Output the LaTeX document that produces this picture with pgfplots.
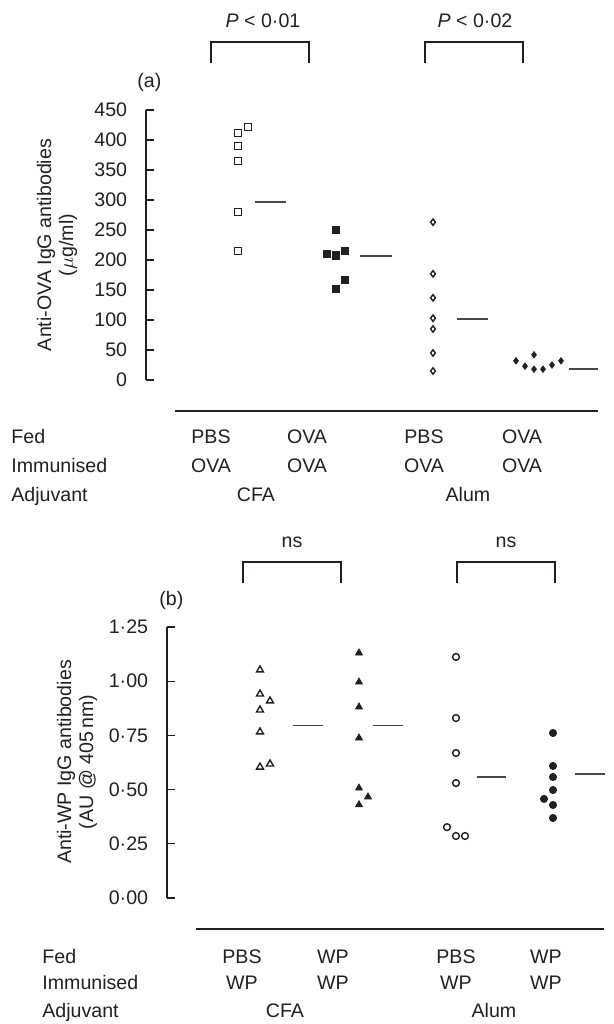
\documentclass[border=0pt]{standalone}
\usepackage{fontspec}
\setmainfont{Liberation Sans}
\usepackage{pgfplots}
\pgfplotsset{compat=1.18}
\definecolor{ink}{RGB}{35,31,32}

% x positions are in page pixels (jitter of the dots), y are the values
\pgfplotsset{
  dotplot/.style={
    scale only axis, anchor=south west,
    axis x line=none, axis y line=left,
    y axis line style={-, line width=0.6pt, ink},
    tick align=inside, major tick length=4pt,
    ytick style={line width=0.6pt, ink},
    yticklabel style={xshift=-6pt, text=ink},
  },
  openm/.style={only marks, mark options={draw=ink, fill=white, line width=0.7pt}},
  fillm/.style={only marks, mark options={draw=ink, fill=ink, line width=0.4pt}},
  meanline/.style={no marks, black!72, line width=0.8pt},
}

\begin{document}
\fontsize{9.8}{11}\selectfont
\begin{tikzpicture}
\path[use as bounding box] (0,0) rectangle (307pt,512pt);

% ---------- (a) anti-OVA ----------
\begin{axis}[dotplot, at={(73pt,322pt)}, width=227pt, height=135pt,
  xmin=146, xmax=600, ymin=0, ymax=450,
  ytick={0,50,100,150,200,250,300,350,400,450},
  yticklabels={0,50,100,150,200,250,300,350,400,450}]
  % PBS fed, OVA immunised, CFA
  \addplot[openm, mark=square, mark size=1.75pt] coordinates {
    (238,412) (248,422) (238,390) (238,365) (238,280) (238,215)};
  \addplot[meanline] coordinates {(255,297) (286,297)};
  % OVA fed, OVA immunised, CFA
  \addplot[fillm, mark=square*, mark size=1.9pt] coordinates {
    (336,250) (327,210) (336,208) (345,215) (345,167) (336,152)};
  \addplot[meanline] coordinates {(360,207) (392,207)};
  % PBS fed, OVA immunised, Alum
  \addplot[openm, mark=diamond, mark size=1.6pt] coordinates {
    (433,263) (433,177) (433,137) (433,103) (433,85) (433,45) (433,15)};
  \addplot[meanline] coordinates {(457,102) (488,102)};
  % OVA fed, OVA immunised, Alum
  \addplot[fillm, mark=diamond*, mark size=1.6pt] coordinates {
    (516,32) (525,23) (534,42) (534,18) (543,18) (552,25) (561,32)};
  \addplot[meanline] coordinates {(569,18) (598,18)};
\end{axis}

% ---------- (b) anti-WP ----------
\begin{axis}[dotplot, at={(83.5pt,63pt)}, width=219.5pt, height=135.5pt,
  xmin=167, xmax=606, ymin=0, ymax=1.25,
  ytick={0,0.25,0.5,0.75,1,1.25},
  yticklabels={0·00,0·25,0·50,0·75,1·00,1·25}]
  % PBS fed, WP immunised, CFA
  \addplot[openm, mark=triangle, mark size=2pt] coordinates {
    (260,1.052) (260,0.941) (270,0.909) (260,0.867) (260,0.766) (260,0.604) (270,0.618)};
  \addplot[meanline] coordinates {(293,0.795) (323,0.795)};
  % WP fed, WP immunised, CFA
  \addplot[fillm, mark=triangle*, mark size=2pt] coordinates {
    (359,1.130) (359,0.996) (359,0.881) (359,0.738) (359,0.507) (368,0.466) (359,0.430)};
  \addplot[meanline] coordinates {(373,0.795) (403,0.795)};
  % PBS fed, WP immunised, Alum
  \addplot[openm, mark=o, mark size=1.7pt] coordinates {
    (456,1.112) (456,0.830) (456,0.669) (456,0.530) (447,0.327) (456,0.286) (465,0.286)};
  \addplot[meanline] coordinates {(477,0.558) (506,0.558)};
  % WP fed, WP immunised, Alum
  \addplot[fillm, mark=*, mark size=1.8pt] coordinates {
    (553,0.761) (553,0.609) (553,0.558) (553,0.498) (544,0.457) (553,0.429) (553,0.369)};
  \addplot[meanline] coordinates {(575,0.572) (605,0.572)};
\end{axis}

% ---------- annotations, in page pixels ----------
\begin{scope}[x=0.5pt, y=-0.5pt, shift={(0pt,512pt)}, text=ink]
  \draw[ink, line width=0.6pt] (211,63) -- (211,42) -- (309,42) -- (309,63);
  \draw[ink, line width=0.6pt] (425,63) -- (425,42) -- (523,42) -- (523,63);
  \node[anchor=base] at (263,28) {\textit{P} < 0·01};
  \node[anchor=base] at (475,28) {\textit{P} < 0·02};
  \node[anchor=base west, inner sep=0pt] at (137,88) {(a)};
  \node[rotate=90, align=center] at (57,245) {Anti-OVA IgG antibodies\\($\mu$g/ml)};
  \draw[ink, line width=0.6pt] (175,411) -- (598,411);
  \node[anchor=base west, inner sep=0pt] at (11,444) {Fed};
  \node[anchor=base west, inner sep=0pt] at (11,473) {Immunised};
  \node[anchor=base west, inner sep=0pt] at (11,502) {Adjuvant};
  \node[anchor=base] at (211,444) {PBS};
  \node[anchor=base] at (307,444) {OVA};
  \node[anchor=base] at (424,444) {PBS};
  \node[anchor=base] at (522,444) {OVA};
  \node[anchor=base] at (211,473) {OVA};
  \node[anchor=base] at (307,473) {OVA};
  \node[anchor=base] at (424,473) {OVA};
  \node[anchor=base] at (522,473) {OVA};
  \node[anchor=base] at (256,502) {CFA};
  \node[anchor=base] at (468,502) {Alum};

  \draw[ink, line width=0.6pt] (243,583) -- (243,562) -- (341,562) -- (341,583);
  \draw[ink, line width=0.6pt] (457,583) -- (457,562) -- (555,562) -- (555,583);
  \node[anchor=base] at (292,548) {ns};
  \node[anchor=base] at (506,548) {ns};
  \node[anchor=base west, inner sep=0pt] at (159,606) {(b)};
  \node[rotate=90, align=center] at (77,762) {Anti-WP IgG antibodies\\(AU @ 405\,nm)};
  \draw[ink, line width=0.6pt] (196,929) -- (604,929);
  \node[anchor=base west, inner sep=0pt] at (42,963) {Fed};
  \node[anchor=base west, inner sep=0pt] at (42,990) {Immunised};
  \node[anchor=base west, inner sep=0pt] at (42,1018) {Adjuvant};
  \node[anchor=base] at (242,963) {PBS};
  \node[anchor=base] at (333,963) {WP};
  \node[anchor=base] at (456,963) {PBS};
  \node[anchor=base] at (546,963) {WP};
  \node[anchor=base] at (242,990) {WP};
  \node[anchor=base] at (333,990) {WP};
  \node[anchor=base] at (456,990) {WP};
  \node[anchor=base] at (546,990) {WP};
  \node[anchor=base] at (285,1018) {CFA};
  \node[anchor=base] at (494,1018) {Alum};
\end{scope}
\end{tikzpicture}
\end{document}
